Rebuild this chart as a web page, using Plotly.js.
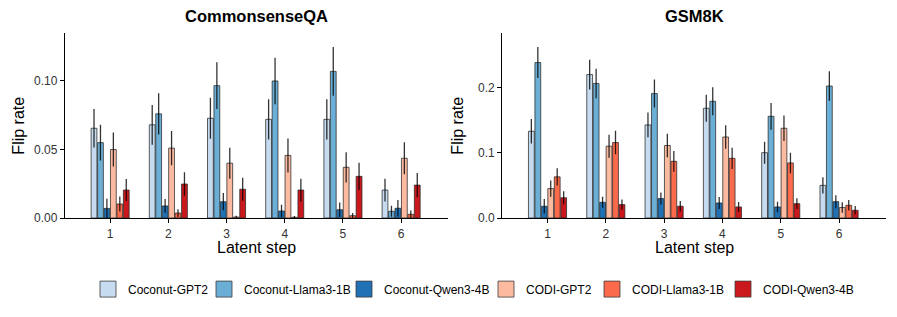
<!DOCTYPE html>
<html>
<head>
<meta charset="utf-8">
<script src="https://cdn.plot.ly/plotly-3.0.1.min.js"></script>
<style>body{margin:0;padding:0;background:#fff;} #chart{width:897px;height:317px;}</style>
</head>
<body>
<div id="chart"></div>
<script>
const steps = [1, 2, 3, 4, 5, 6];
const models = ["Coconut-GPT2", "Coconut-Llama3-1B", "Coconut-Qwen3-4B", "CODI-GPT2", "CODI-Llama3-1B", "CODI-Qwen3-4B"];
const colors = ["#c6dbef", "#6baed6", "#2171b5", "#fcbba1", "#fb6a4a", "#cb181d"];

// CommonsenseQA flip rates and error half-widths
const csqa_coconut_gpt2 = [0.0655, 0.068, 0.0728, 0.072, 0.072, 0.0204];
const csqa_coconut_gpt2_err = [0.014, 0.0145, 0.015, 0.0147, 0.0147, 0.0083];
const csqa_coconut_llama = [0.055, 0.076, 0.0966, 0.100, 0.107, 0.0049];
const csqa_coconut_llama_err = [0.013, 0.015, 0.017, 0.017, 0.0178, 0.004];
const csqa_coconut_qwen = [0.007, 0.0088, 0.0119, 0.0051, 0.006, 0.0071];
const csqa_coconut_qwen_err = [0.007, 0.005, 0.0063, 0.0046, 0.0053, 0.006];
const csqa_codi_gpt2 = [0.050, 0.051, 0.040, 0.0457, 0.037, 0.0436];
const csqa_codi_gpt2_err = [0.0124, 0.0125, 0.0113, 0.0124, 0.011, 0.0116];
const csqa_codi_llama = [0.0102, 0.0036, 0.0007, 0.0005, 0.0017, 0.0027];
const csqa_codi_llama_err = [0.0055, 0.0028, 0.001, 0.001, 0.002, 0.0027];
const csqa_codi_qwen = [0.0204, 0.0248, 0.021, 0.0204, 0.0304, 0.024];
const csqa_codi_qwen_err = [0.008, 0.0086, 0.0084, 0.0083, 0.010, 0.0088];

// GSM8K flip rates and error half-widths
const gsm_coconut_gpt2 = [0.1328, 0.2196, 0.1425, 0.168, 0.100, 0.050];
const gsm_coconut_gpt2_err = [0.0187, 0.0227, 0.019, 0.0207, 0.0168, 0.0123];
const gsm_coconut_llama = [0.238, 0.206, 0.1905, 0.1787, 0.1557, 0.202];
const gsm_coconut_llama_err = [0.0237, 0.0227, 0.0214, 0.0214, 0.0204, 0.0225];
const gsm_coconut_qwen = [0.018, 0.024, 0.0297, 0.023, 0.0169, 0.025];
const gsm_coconut_qwen_err = [0.011, 0.0084, 0.0092, 0.0092, 0.008, 0.010];
const gsm_codi_gpt2 = [0.045, 0.110, 0.111, 0.124, 0.1374, 0.016];
const gsm_codi_gpt2_err = [0.0125, 0.0176, 0.0179, 0.018, 0.0196, 0.008];
const gsm_codi_llama = [0.063, 0.1155, 0.0868, 0.0914, 0.0843, 0.0194];
const gsm_codi_llama_err = [0.0133, 0.0179, 0.0158, 0.0163, 0.0156, 0.008];
const gsm_codi_qwen = [0.031, 0.0205, 0.018, 0.0169, 0.022, 0.0118];
const gsm_codi_qwen_err = [0.010, 0.0077, 0.008, 0.0077, 0.0084, 0.0066];

const csqa = [
  [csqa_coconut_gpt2, csqa_coconut_gpt2_err],
  [csqa_coconut_llama, csqa_coconut_llama_err],
  [csqa_coconut_qwen, csqa_coconut_qwen_err],
  [csqa_codi_gpt2, csqa_codi_gpt2_err],
  [csqa_codi_llama, csqa_codi_llama_err],
  [csqa_codi_qwen, csqa_codi_qwen_err]
];
const gsm = [
  [gsm_coconut_gpt2, gsm_coconut_gpt2_err],
  [gsm_coconut_llama, gsm_coconut_llama_err],
  [gsm_coconut_qwen, gsm_coconut_qwen_err],
  [gsm_codi_gpt2, gsm_codi_gpt2_err],
  [gsm_codi_llama, gsm_codi_llama_err],
  [gsm_codi_qwen, gsm_codi_qwen_err]
];

const FONT = "Liberation Sans, Arial, sans-serif";
const traces = [];
function addPanel(data, xa, ya) {
  data.forEach((d, i) => {
    traces.push({
      type: "bar", x: steps, y: d[0], name: models[i], xaxis: xa, yaxis: ya,
      showlegend: false,
      marker: {color: colors[i], line: {color: "rgba(40,40,40,0.75)", width: 1}},
      error_y: {type: "data", array: d[1], visible: true, color: "rgba(0,0,0,0.8)", thickness: 1.3, width: 0}
    });
  });
}
addPanel(csqa, "x", "y");
addPanel(gsm, "x2", "y2");

// legend entries: one small legend per model, placed along the bottom row
const legendLeftPx = [100, 216, 356, 498, 604, 735];
const legendLayouts = {};
models.forEach((m, i) => {
  const key = i === 0 ? "legend" : "legend" + (i + 1);
  traces.push({
    type: "scatter", mode: "markers", x: [null], y: [null], name: m, xaxis: "x3", yaxis: "y3",
    legend: key, showlegend: true,
    marker: {symbol: "square", size: 16, color: colors[i], line: {color: "rgba(60,60,60,0.8)", width: 1}}
  });
  legendLayouts[key] = {
    orientation: "h", x: (legendLeftPx[i] - 12) / 897, xanchor: "left", y: 0.088, yanchor: "middle",
    font: {family: FONT, size: 12, color: "#000"}, itemsizing: "trace", bgcolor: "rgba(0,0,0,0)"
  };
});

const xbase = {
  range: [0.225, 6.8], tickvals: steps, ticktext: steps.map(String), showline: true, linecolor: "#000", linewidth: 1.2,
  ticks: "outside", ticklen: 4, tickwidth: 1, tickcolor: "#000", showgrid: false, zeroline: false,
  tickfont: {family: FONT, size: 12, color: "#333"}
};
const ybase = {
  showline: true, linecolor: "#000", linewidth: 1.2, ticks: "outside", ticklen: 4, tickwidth: 1, tickcolor: "#000",
  showgrid: false, zeroline: false, tickfont: {family: FONT, size: 12, color: "#333"}
};

const layout = Object.assign({
  width: 897, height: 317,
  margin: {l: 0, r: 0, t: 0, b: 0},
  paper_bgcolor: "#fff", plot_bgcolor: "#fff",
  barmode: "group", bargap: 0.335, bargroupgap: 0.1,
  font: {family: FONT, size: 12, color: "#000"},
  xaxis: Object.assign({}, xbase, {domain: [0.0725, 0.4991], anchor: "y"}),
  yaxis: Object.assign({}, ybase, {domain: [0.3123, 0.895], range: [0, 0.1348], tickvals: [0, 0.05, 0.10], ticktext: ["0.00", "0.05", "0.10"], anchor: "x"}),
  xaxis2: Object.assign({}, xbase, {domain: [0.56, 0.9874], anchor: "y2"}),
  yaxis2: Object.assign({}, ybase, {domain: [0.3123, 0.895], range: [0, 0.2828], tickvals: [0, 0.1, 0.2], ticktext: ["0.0", "0.1", "0.2"], anchor: "x2"}),
  xaxis3: {domain: [0, 0.01], visible: false, anchor: "y3", range: [0, 1]},
  yaxis3: {domain: [0, 0.01], visible: false, anchor: "x3", range: [0, 1]},
  showlegend: true,
  annotations: [
    {text: "<b>CommonsenseQA</b>", xref: "paper", yref: "paper", x: 0.2858, y: 1 - 16 / 317, xanchor: "center", yanchor: "middle", showarrow: false, font: {family: FONT, size: 16.5, color: "#000"}},
    {text: "<b>GSM8K</b>", xref: "paper", yref: "paper", x: 0.7737, y: 1 - 16 / 317, xanchor: "center", yanchor: "middle", showarrow: false, font: {family: FONT, size: 16.5, color: "#000"}},
    {text: "Flip rate", xref: "paper", yref: "paper", x: 19 / 897, y: 0.6037, xanchor: "center", yanchor: "middle", textangle: -90, showarrow: false, font: {family: FONT, size: 16, color: "#000"}},
    {text: "Flip rate", xref: "paper", yref: "paper", x: 458 / 897, y: 0.6037, xanchor: "center", yanchor: "middle", textangle: -90, showarrow: false, font: {family: FONT, size: 16, color: "#000"}},
    {text: "Latent step", xref: "paper", yref: "paper", x: 0.2858, y: 1 - 247 / 317, xanchor: "center", yanchor: "middle", showarrow: false, font: {family: FONT, size: 16, color: "#000"}},
    {text: "Latent step", xref: "paper", yref: "paper", x: 0.7737, y: 1 - 247 / 317, xanchor: "center", yanchor: "middle", showarrow: false, font: {family: FONT, size: 16, color: "#000"}}
  ]
}, legendLayouts);

Plotly.newPlot("chart", traces, layout, {staticPlot: true, displayModeBar: false});
</script>
</body>
</html>
